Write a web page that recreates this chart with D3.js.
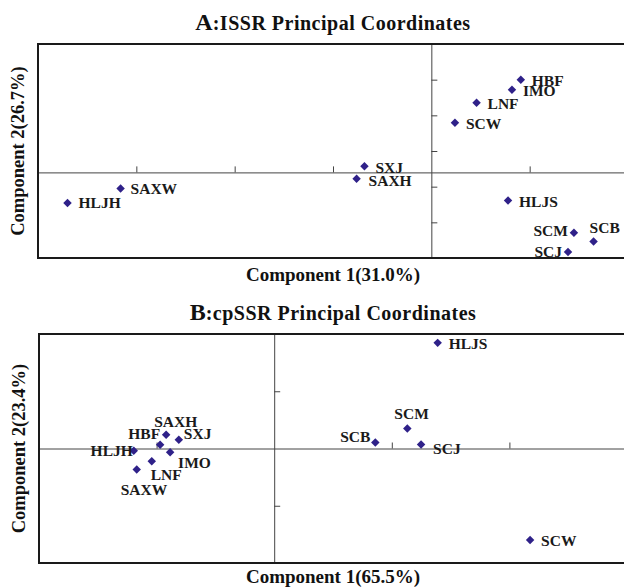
<!DOCTYPE html>
<html>
<head>
<meta charset="utf-8">
<script src="https://cdn.jsdelivr.net/npm/d3@7"></script>
<style>
  body { margin: 0; background: #fff; }
  svg { display: block; font-family: "Liberation Serif", "Times New Roman", serif; font-weight: bold; }
</style>
</head>
<body>
<svg id="chart" width="624" height="587"></svg>
<script>
"use strict";

// A : ISSR
var namesA = ["HLJH", "SAXW", "SXJ", "SAXH", "HBF", "IMO", "LNF", "SCW", "HLJS", "SCM", "SCB", "SCJ"]
var pc1A = [-0.370, -0.316, -0.068, -0.076, 0.091, 0.082, 0.046, 0.024, 0.078, 0.145, 0.165, 0.139]
var pc2A = [-0.086, -0.045, 0.017, -0.018, 0.260, 0.232, 0.195, 0.139, -0.079, -0.169, -0.194, -0.223]
var xTicksA = [-0.3, -0.2, -0.1, 0.1]
var yTicksA = [-0.14, -0.04, 0.06, 0.16, 0.26]

// B : cpSSR
var namesB = ["HLJH", "SAXH", "HBF", "SXJ", "IMO", "LNF", "SAXW", "SCB", "SCM", "SCJ", "HLJS", "SCW"]
var pc1B = [-1.194, -0.919, -0.970, -0.811, -0.885, -1.041, -1.169, 0.860, 1.132, 1.249, 1.390, 2.176]
var pc2B = [-0.04, 0.239, 0.065, 0.152, -0.065, -0.222, -0.366, 0.105, 0.349, 0.070, 1.845, -1.600]
var xTicksB = [-1, 1, 2]
var yTicksB = [-1, 1]

// placement des étiquettes (décalage en px, ancrage)
var labelsA = {
  HLJH: [11, 0, "start"], SAXW: [10, 0, "start"], SXJ: [11, 1, "start"], SAXH: [12, 2, "start"],
  HBF: [11, 1, "start"], IMO: [11, 1, "start"], LNF: [11, 1, "start"], SCW: [11, 1, "start"],
  HLJS: [11, 1, "start"], SCM: [-6, -2, "end"], SCB: [-4, -14, "start"], SCJ: [-6, 0, "end"]
}
var labelsB = {
  HLJH: [-1, 0, "end"], SAXH: [-12, -13, "start"], HBF: [0, -11, "end"], SXJ: [5, -6, "start"],
  IMO: [8, 10, "start"], LNF: [-1, 13, "start"], SAXW: [-16, 20, "start"], SCB: [-5, -6, "end"],
  SCM: [-13, -15, "start"], SCJ: [12, 4, "start"], HLJS: [11, 1, "start"], SCW: [11, 0, "start"]
}

var svg = d3.select("#chart")
var markColor = "#2f2189"

function panel(cfg) {
  var g = svg.append("g")
  var x = d3.scaleLinear().domain(cfg.xDomain).range([cfg.left, cfg.right])
  var y = d3.scaleLinear().domain(cfg.yDomain).range([cfg.bottom, cfg.top])

  // titre
  var title = g.append("text")
    .attr("x", (cfg.left + cfg.right) / 2)
    .attr("y", cfg.titleY)
    .attr("text-anchor", "middle")
    .attr("fill", "#111")
  title.append("tspan").attr("font-size", 24).text(cfg.letter)
  title.append("tspan").attr("font-size", 20).attr("letter-spacing", 0.5).text(cfg.title)

  // axes croisés à zéro
  g.append("g")
    .attr("transform", "translate(0," + y(0) + ")")
    .call(d3.axisTop(x).tickValues(cfg.xTicks).tickSize(6).tickSizeOuter(0).tickFormat(""))
    .call(function(a) { a.selectAll("path, line").attr("stroke", "#444") })

  g.append("g")
    .attr("transform", "translate(" + x(0) + ",0)")
    .call(d3.axisRight(y).tickValues(cfg.yTicks).tickSize(6).tickSizeOuter(0).tickFormat(""))
    .call(function(a) { a.selectAll("path, line").attr("stroke", "#444") })

  // cadre
  g.append("rect")
    .attr("x", cfg.left)
    .attr("y", cfg.top)
    .attr("width", cfg.right - cfg.left)
    .attr("height", cfg.bottom - cfg.top)
    .attr("fill", "none")
    .attr("stroke", "#1a1a1a")
    .attr("stroke-width", 2)

  var pts = cfg.names.map(function(n, i) { return { name: n, pc1: cfg.pc1[i], pc2: cfg.pc2[i] } })

  g.append("g").selectAll("path")
    .data(pts)
    .enter()
    .append("path")
      .attr("d", d3.symbol(d3.symbolSquare, 36))
      .attr("transform", function(d) { return "translate(" + x(d.pc1) + "," + y(d.pc2) + ") rotate(45)" })
      .attr("fill", markColor)

  g.append("g").selectAll("text")
    .data(pts)
    .enter()
    .append("text")
      .attr("x", function(d) { return x(d.pc1) + cfg.labels[d.name][0] })
      .attr("y", function(d) { return y(d.pc2) + cfg.labels[d.name][1] })
      .attr("dy", "0.35em")
      .attr("text-anchor", function(d) { return cfg.labels[d.name][2] })
      .attr("font-size", 15.5)
      .attr("fill", "#1a1a1a")
      .text(function(d) { return d.name })

  // titres des axes
  g.append("text")
    .attr("x", (cfg.left + cfg.right) / 2)
    .attr("y", cfg.xLabelY)
    .attr("text-anchor", "middle")
    .attr("font-size", 19)
    .attr("fill", "#111")
    .text(cfg.xLabel)

  g.append("text")
    .attr("transform", "translate(" + cfg.yLabelX + "," + (cfg.top + cfg.bottom) / 2 + ") rotate(-90)")
    .attr("text-anchor", "middle")
    .attr("font-size", 18.5)
    .attr("fill", "#111")
    .text(cfg.yLabel)
}

panel({
  letter: "A", title: ":ISSR Principal Coordinates", titleY: 30,
  names: namesA, pc1: pc1A, pc2: pc2A, labels: labelsA,
  xDomain: [-0.4, 0.2], yDomain: [-0.24, 0.36], xTicks: xTicksA, yTicks: yTicksA,
  left: 38, right: 628, top: 44, bottom: 258,
  xLabel: "Component 1(31.0%)", xLabelY: 281,
  yLabel: "Component 2(26.7%)", yLabelX: 24
})

panel({
  letter: "B", title: ":cpSSR Principal Coordinates", titleY: 320,
  names: namesB, pc1: pc1B, pc2: pc2B, labels: labelsB,
  xDomain: [-2, 3], yDomain: [-2, 2], xTicks: xTicksB, yTicks: yTicksB,
  left: 39, right: 627, top: 334, bottom: 563,
  xLabel: "Component 1(65.5%)", xLabelY: 583,
  yLabel: "Component 2(23.4%)", yLabelX: 25
})
</script>
</body>
</html>
